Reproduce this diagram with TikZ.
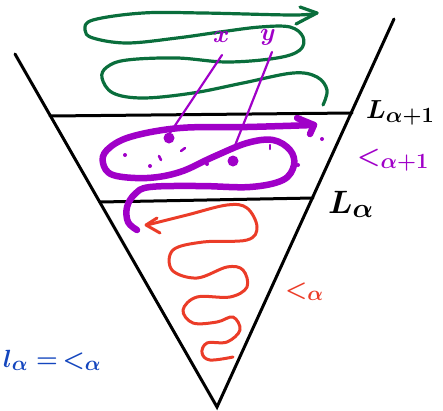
\documentclass[tikz,border=0pt]{standalone}
\usepackage{graphicx}
\usetikzlibrary{calc}
\definecolor{cgreen}{RGB}{10,110,60}
\definecolor{cpurple}{RGB}{160,0,200}
\definecolor{cred}{RGB}{235,60,40}
\definecolor{cblue}{RGB}{20,70,190}
\tikzset{
  px/.style={x=1pt,y=-1pt},
  frame/.style={line width=3pt,black,line cap=round},
  greenline/.style={line width=3.2pt,cgreen,line cap=round,line join=round},
  purplethick/.style={line width=6.5pt,cpurple,line cap=round,line join=round},
  purplethin/.style={line width=2.2pt,cpurple,line cap=round},
  redline/.style={line width=3pt,cred,line cap=round,line join=round},
  lbl/.style={inner sep=0pt,anchor=base west,font=\Huge\boldmath}
}
\begin{document}
\begin{tikzpicture}[px]
\useasboundingbox (0,0) rectangle (443,410);
% triangle
\coordinate (tl) at (15,54);
\coordinate (tr) at (394,19);
\coordinate (ap) at (217,407);
\draw[frame] (tl) -- (ap) -- (tr);
\coordinate (u1) at (50,116);
\coordinate (u2) at (352,113);
\coordinate (d1) at (100,202);
\coordinate (d2) at (313,198);
\draw[frame] (u1) -- (u2);
\draw[frame] (d1) -- (d2);
% green curve
\draw[greenline] plot[smooth,tension=0.6] coordinates {
 (317,13) (293,15) (203,13) (143,13) (93,20) (85,30) (93,38) (127,43) (177,38)
 (220,32) (260,27) (290,27) (303,37) (300,50) (277,58) (227,62) (177,58) (127,60)
 (107,67) (102,78) (113,93) (143,98) (193,93) (243,83) (293,73) (317,77) (327,90) (323,105)};
\draw[greenline] (300,7) -- (317,13) -- (296,24);
% purple thin lines
\draw[purplethin] (222,55) -- (168,136);
\draw[purplethin] (272,52) -- (234,148);
% purple x y
\node[lbl,text=cpurple] (x) at (213,42) {$x$};
\node[lbl,text=cpurple] (y) at (260,40) {$y$};
% purple thick curve
\draw[purplethick] plot[smooth,tension=0.6] coordinates {
 (137,230) (128,222) (127,207) (135,194) (150,187) (200,186) (250,187) (283,180)
 (294,165) (290,150) (273,140) (247,143) (213,157) (180,172) (147,178) (113,175)
 (103,163) (107,150) (130,137) (180,128) (247,127) (314,125)};
\draw[purplethick] (297,118) -- (314,125) -- (310,134);
% purple dots
\fill[cpurple] (169,138) circle (5.5pt);
\fill[cpurple] (233,161) circle (5.5pt);
\foreach \p in {(125,155),(150,166),(207,164),(232,150),(298,165),(322,139)}
  \fill[cpurple] \p circle (2pt);
\draw[purplethin,line width=2.5pt] (159,156) -- (161,160);
\draw[purplethin,line width=2.5pt] (181,151) -- (185,148);
\draw[purplethin,line width=2.5pt] (270,145) -- (270,149);
% red curve
\draw[redline] plot[smooth,tension=0.6] coordinates {
 (233,357) (210,360) (202,353) (207,343) (227,342) (240,330) (233,317) (217,322)
 (193,323) (183,310) (197,297) (230,297) (247,287) (243,270) (227,267) (197,278)
 (172,270) (173,250) (203,242) (247,240) (257,227) (247,208) (227,205) (187,215) (147,225)};
\draw[redline] (157,218) -- (146,225) -- (160,233);
% labels
\node[lbl] (La1) at (366,118) {\scalebox{1.05}{$L_{\alpha+1}$}};
\node[lbl] (La) at (328,213) {\scalebox{1.3}{$L_{\alpha}$}};
\node[lbl,text=cpurple] (pa1) at (357,164) {\scalebox{1.05}{$<_{\alpha+1}$}};
\node[lbl,text=cred] (ra) at (285,297) {$<_{\alpha}$};
\node[lbl,text=cblue] (bl) at (3,367) {$l_\alpha = \,<_\alpha$};
\end{tikzpicture}
\end{document}
